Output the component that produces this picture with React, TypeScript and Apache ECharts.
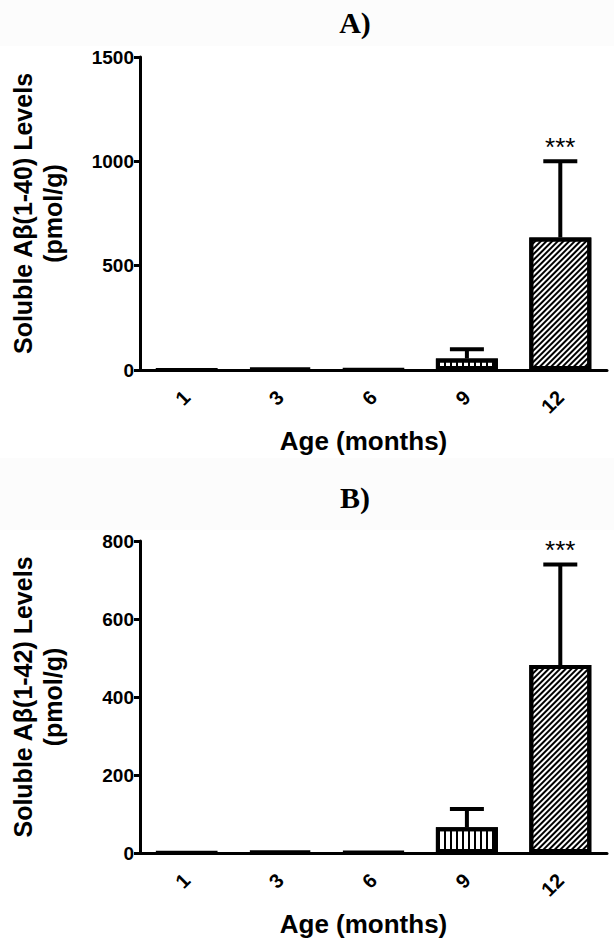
import React, { useEffect, useRef } from 'react';
import * as echarts from 'echarts';

// ---- data ----
const categories = ['1', '3', '6', '9', '12'];
const meanA = [0.5, 8, 2, 55, 635];
const errA = [0, 1, 0, 45, 365];
const sigA = ['', '', '', '', '***'];
const meanB = [0.8, 4, 2, 66, 482];
const errB = [0, 1, 0, 47, 258];
const sigB = ['', '', '', '', '***'];
const yMaxA = 1500;
const yStepA = 500;
const yMaxB = 800;
const yStepB = 200;
const patterns = ['plain', 'plain', 'plain', 'vertical', 'diagonal'];

const FONT = 'Liberation Sans, Arial, sans-serif';

function decalFor(p: string): any {
  if (p === 'vertical') {
    return {
      symbol: 'rect',
      symbolSize: 1,
      color: '#000',
      backgroundColor: '#fff',
      dashArrayX: [2, 4],
      dashArrayY: [4, 0],
      rotation: 0,
    };
  }
  if (p === 'diagonal') {
    return {
      symbol: 'rect',
      symbolSize: 1,
      color: '#000',
      backgroundColor: '#fff',
      dashArrayX: [1, 0],
      dashArrayY: [1.4, 2],
      rotation: -Math.PI / 4,
    };
  }
  return null;
}

function barSeries(means: number[], idx: number) {
  return {
    type: 'bar',
    xAxisIndex: idx,
    yAxisIndex: idx,
    barWidth: 62,
    z: 2,
    data: means.map((v, i) => {
      const d = decalFor(patterns[i]);
      const itemStyle: any = { color: '#fff', borderColor: '#000', borderWidth: 4 };
      if (d) itemStyle.decal = d;
      return { value: v, itemStyle };
    }),
  };
}

function errSeries(means: number[], errs: number[], sig: string[], idx: number) {
  return {
    type: 'custom',
    xAxisIndex: idx,
    yAxisIndex: idx,
    z: 3,
    data: means.map((m, i) => [i, m, m + errs[i]]),
    renderItem: (params: any, api: any) => {
      const x = api.value(0);
      const base = api.coord([x, api.value(1)]);
      const top = api.coord([x, api.value(2)]);
      const half = 17;
      const style = { stroke: '#000', lineWidth: 4, fill: null };
      const children: any[] = [];
      if (top[1] < base[1] - 0.5) {
        children.push({ type: 'line', shape: { x1: base[0], y1: base[1], x2: top[0], y2: top[1] }, style });
        children.push({ type: 'line', shape: { x1: top[0] - half, y1: top[1], x2: top[0] + half, y2: top[1] }, style });
      }
      const s = sig[params.dataIndex];
      if (s) {
        children.push({
          type: 'text',
          style: {
            text: s,
            x: top[0],
            y: top[1] - 14,
            align: 'center',
            verticalAlign: 'middle',
            font: '26px ' + FONT,
            fill: '#000',
          },
        });
      }
      return { type: 'group', children };
    },
  };
}

function xAxis(idx: number) {
  return {
    type: 'category',
    gridIndex: idx,
    data: categories,
    boundaryGap: true,
    name: 'Age (months)',
    nameLocation: 'middle',
    nameGap: 58,
    nameTextStyle: { color: '#000', fontFamily: FONT, fontWeight: 'bold', fontSize: 26, padding: [0, 20, 0, 0] },
    axisLine: { lineStyle: { color: '#000', width: 3 } },
    axisTick: { alignWithLabel: true, length: 8, lineStyle: { color: '#000', width: 3 } },
    axisLabel: { rotate: 45, margin: 24, color: '#000', fontFamily: FONT, fontWeight: 'bold', fontSize: 20 },
    splitLine: { show: false },
  };
}

function yAxis(idx: number, max: number, step: number, name: string) {
  return {
    type: 'value',
    gridIndex: idx,
    min: 0,
    max,
    interval: step,
    name,
    nameLocation: 'middle',
    nameGap: 72,
    nameTextStyle: { color: '#000', fontFamily: FONT, fontWeight: 'bold', fontSize: 25, lineHeight: 30, align: 'center' },
    axisLine: { show: true, lineStyle: { color: '#000', width: 3 } },
    axisTick: { show: true, length: 6, lineStyle: { color: '#000', width: 3 } },
    axisLabel: {
      margin: 6,
      color: '#000',
      fontFamily: FONT,
      fontWeight: 'bold',
      fontSize: 19,
      formatter: (v: number) => String(v),
    },
    splitLine: { show: false },
  };
}

export default function App() {
  const ref = useRef<HTMLDivElement>(null);
  useEffect(() => {
    if (!ref.current) return;
    const chart = echarts.init(ref.current, null as any, { renderer: 'svg' });
    chart.setOption({
      animation: false,
      backgroundColor: '#fff',
      graphic: [
        { type: 'rect', z: -10, shape: { x: 0, y: 0, width: 614, height: 46 }, style: { fill: '#fcfcfc' } },
        { type: 'rect', z: -10, shape: { x: 0, y: 458, width: 614, height: 72 }, style: { fill: '#fcfcfc' } },
        {
          type: 'text',
          x: 355,
          y: 22,
          style: { text: 'A)', font: 'bold 30px Liberation Serif, Times New Roman, serif', fill: '#000', align: 'center', verticalAlign: 'middle' },
        },
        {
          type: 'text',
          x: 355,
          y: 497,
          style: { text: 'B)', font: 'bold 30px Liberation Serif, Times New Roman, serif', fill: '#000', align: 'center', verticalAlign: 'middle' },
        },
      ],
      grid: [
        { left: 136, right: 7, top: 57, height: 313, containLabel: false },
        { left: 136, right: 7, top: 541, height: 312, containLabel: false },
      ],
      xAxis: [xAxis(0), xAxis(1)],
      yAxis: [
        yAxis(0, yMaxA, yStepA, 'Soluble Aβ(1-40) Levels\n(pmol/g)'),
        yAxis(1, yMaxB, yStepB, 'Soluble Aβ(1-42) Levels\n(pmol/g)'),
      ],
      series: [
        barSeries(meanA, 0),
        errSeries(meanA, errA, sigA, 0),
        barSeries(meanB, 1),
        errSeries(meanB, errB, sigB, 1),
      ],
    });
    return () => chart.dispose();
  }, []);
  return <div ref={ref} style={{ position: 'fixed', left: 0, top: 0, width: 614, height: 947 }} />;
}
